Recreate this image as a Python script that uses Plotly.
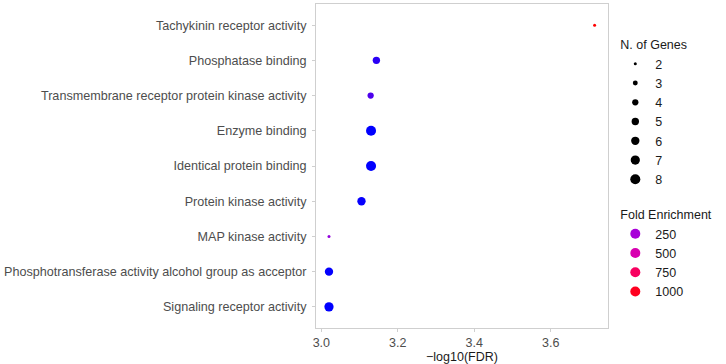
import numpy as np
import plotly.graph_objects as go

# ---- data ----
terms = [
    "Tachykinin receptor activity",
    "Phosphatase binding",
    "Transmembrane receptor protein kinase activity",
    "Enzyme binding",
    "Identical protein binding",
    "Protein kinase activity",
    "MAP kinase activity",
    "Phosphotransferase activity alcohol group as acceptor",
    "Signaling receptor activity",
]
neg_log10_fdr = [3.715, 3.144, 3.129, 3.130, 3.130, 3.105, 3.020, 3.020, 3.020]
n_genes = [2, 5, 4, 8, 8, 6, 2, 6, 7]
fold_enrichment = [1080, 70, 120, 12, 12, 18, 220, 15, 10]

gene_legend = [2, 3, 4, 5, 6, 7, 8]
fe_legend = [250, 500, 750, 1000]
x_ticks = [3.0, 3.2, 3.4, 3.6]

# ---- colour scale (blue -> purple -> magenta -> red) ----
cmin, cmax = min(fold_enrichment), max(fold_enrichment)
STOPS = [
    (0.0, (0, 0, 255)),
    (0.224, (168, 0, 216)),
    (0.458, (216, 0, 176)),
    (0.692, (248, 0, 96)),
    (0.925, (255, 0, 32)),
    (1.0, (255, 0, 0)),
]

def color_at(t):
    t = min(max(t, 0.0), 1.0)
    for (t0, c0), (t1, c1) in zip(STOPS[:-1], STOPS[1:]):
        if t <= t1:
            f = (t - t0) / (t1 - t0) if t1 > t0 else 0
            c = [round(a + (b - a) * f) for a, b in zip(c0, c1)]
            return "#%02x%02x%02x" % tuple(c)
    return "#ff0000"

colorscale = [[i / 40, color_at(i / 40)] for i in range(41)]

def size_px(n):
    return float(np.sqrt(9 + 15.17 * (n - 2)))

FONT = "Liberation Sans, Arial, sans-serif"

fig = go.Figure()
fig.add_trace(go.Scatter(
    x=neg_log10_fdr, y=terms, mode="markers",
    marker=dict(size=[size_px(n) for n in n_genes], sizemode="diameter",
                color=fold_enrichment, colorscale=colorscale,
                cmin=cmin, cmax=cmax, showscale=False, line=dict(width=0),
                opacity=1),
    showlegend=False, hoverinfo="x+y",
))

for i, n in enumerate(gene_legend):
    fig.add_trace(go.Scatter(
        x=[None], y=[None], mode="markers", name=str(n),
        marker=dict(size=size_px(n), color="black", line=dict(width=0)),
        legendgroup="genes",
        legendgrouptitle=dict(text="N. of Genes") if i == 0 else None,
    ))

for i, v in enumerate(fe_legend):
    fig.add_trace(go.Scatter(
        x=[None], y=[None], mode="markers", name=str(v),
        marker=dict(size=10, color=color_at((v - cmin) / (cmax - cmin)),
                    line=dict(width=0)),
        legendgroup="fe",
        legendgrouptitle=dict(text="Fold Enrichment") if i == 0 else None,
    ))

border = "#cfcfcf"
fig.update_layout(
    width=726, height=364,
    margin=dict(l=316, r=113, t=4, b=36),
    paper_bgcolor="white", plot_bgcolor="white",
    font=dict(family=FONT, size=12.5, color="#1a1a1a"),
    xaxis=dict(
        range=[2.986, 3.75], tickvals=x_ticks, ticktext=["%.1f" % v for v in x_ticks],
        showgrid=False, zeroline=False, showline=True, mirror=True,
        linecolor=border, linewidth=1, ticks="outside", ticklen=3,
        tickcolor=border, tickfont=dict(color="#4d4d4d", size=12.5),
        title=dict(text="\u2212log10(FDR)", font=dict(size=12.5, color="#1a1a1a"), standoff=0),
    ),
    yaxis=dict(
        type="category", categoryorder="array", categoryarray=terms,
        range=[8.6, -0.6], showgrid=False, zeroline=False, showline=True,
        mirror=True, linecolor=border, linewidth=1, ticks="outside",
        ticklen=3, tickcolor=border, tickfont=dict(color="#4d4d4d", size=12.6),
        ticklabelstandoff=3,
    ),
    legend=dict(
        x=1.025, y=0.92, xanchor="left", yanchor="top",
        traceorder="grouped", tracegroupgap=16,
        font=dict(size=12.5, color="#1a1a1a"),
        grouptitlefont=dict(size=12.5, color="#1a1a1a"),
        bgcolor="rgba(0,0,0,0)", itemclick=False,
    ),
)

fig.write_html("out.html")
